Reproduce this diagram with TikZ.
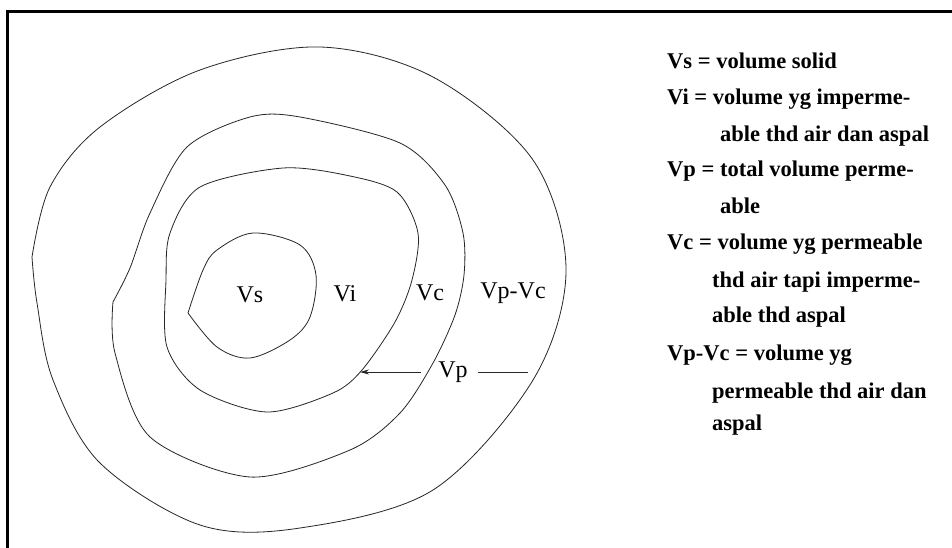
\documentclass[tikz,border=0pt]{standalone}
\usepackage{fontspec}
\setmainfont{Liberation Serif}
\usetikzlibrary{arrows.meta}

\begin{document}
\begin{tikzpicture}[
  x=1pt, y=-1pt,
  frame/.style={draw=black, line width=2.7pt},
  contour/.style={draw=black!85, line width=0.8pt},
  lbl/.style={font=\fontsize{24}{28}\selectfont, inner sep=0pt, anchor=base},
  legend/.style={font=\bfseries\fontsize{22.5}{27}\selectfont,
                 inner sep=0pt, anchor=base west},
  ptr/.style={-{Stealth[length=9pt,width=5pt]}, draw=black!85, line width=0.8pt}
]
\useasboundingbox (0,0) rectangle (952,548);
\fill[white] (0,0) rectangle (952,548);
\draw[frame] (7.3,548) -- (7.3,11.3) -- (952,11.3);

% contours, inner to outer
\draw[contour] plot[smooth, tension=0.55] coordinates {(188,313) (203,270) (217,250)
  (253,233) (300,245) (316,275) (310,317) (290,340) (250,358) (217,347) (188,313)};
\draw[contour] plot[smooth cycle, tension=0.5] coordinates {(283,168) (350,176)
  (397,192) (418,233) (412,280) (395,322) (362,370) (333,393) (267,412) (200,390)
  (167,347) (166,280) (170,233) (200,187)};
\draw[contour] plot[smooth, tension=0.5] coordinates {(113,302) (130,268) (150,213)
  (187,147) (250,117) (300,117) (400,143) (445,185) (463,233) (464,275) (455,315)
  (433,363) (400,413) (350,450) (250,477) (150,437) (115,353) (113,302)};
\draw[contour] plot[smooth, tension=0.55] coordinates {(32,257) (50,187) (100,127)
  (200,70) (320,47) (433,77) (533,160) (566,270) (533,380) (433,490) (300,528)
  (200,525) (100,463) (53,380) (37,303) (32,257)};

\node[lbl] (vs) at (250,302) {Vs};
\node[lbl] (vi) at (345,301) {Vi};
\node[lbl] (vc) at (430,300) {Vc};
\node[lbl] (vpvc) at (513,298) {Vp-Vc};
\node[lbl, anchor=center] (vp) at (453,372) {Vp};

\coordinate (tip) at (360,372);
\coordinate (tail) at (528,372);
\draw[ptr, shorten <=17pt] (vp) -- (tip);
\draw[contour, shorten <=10pt] (vp) -- (tail);

\foreach \txt/\xx/\yy [count=\i] in {
    Vs = volume solid/667/69,
    Vi = volume yg imperme-/667/105,
    able thd air dan aspal/720/142,
    Vp = total volume perme-/667/177,
    able/720/213,
    Vc = volume yg permeable/667/249,
    thd air tapi imperme-/712/287,
    able thd aspal/712/322,
    Vp-Vc = volume yg/667/360,
    permeable thd air dan/712/398,
    aspal/712/430}
  \node[legend] (key\i) at (\xx,\yy) {\txt};
\end{tikzpicture}
\end{document}
